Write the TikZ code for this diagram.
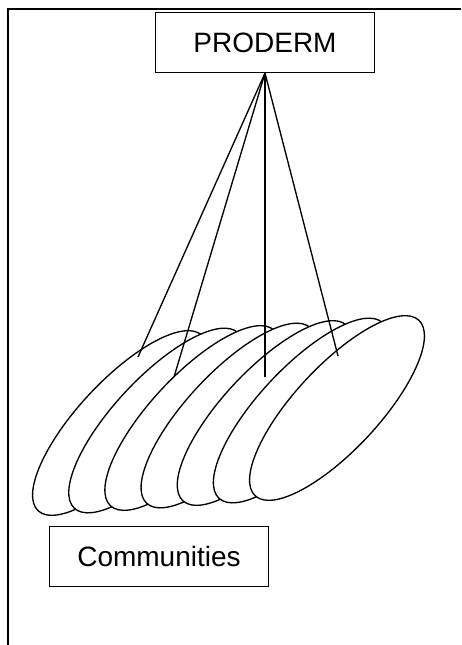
\documentclass[tikz,border=0pt]{standalone}
\usepackage{fontspec}
\setmainfont{Liberation Sans}

\begin{document}
\begin{tikzpicture}[x=0.75pt,y=-0.75pt,
  box/.style={draw,line width=0.9pt,minimum width=164pt,minimum height=45pt,inner sep=0pt,
    font=\fontsize{21}{25}\selectfont},
  plate/.style={draw,fill=white,line width=1pt},
  tie/.style={line width=1pt}]
  \useasboundingbox (0,0) rectangle (461,645);
  \draw[line width=1.6pt] (8,645) -- (8,9) -- (461,9);
  \node[box] (proderm) at (265,42.5) {PRODERM};
  \node[box] (communities) at (159,556.5) {Communities};
  \filldraw[plate] (120,423) ellipse [x radius=120,y radius=42,rotate=47];
  \filldraw[plate] (156.2,420.5) ellipse [x radius=120,y radius=42,rotate=47];
  \filldraw[plate] (192.3,418) ellipse [x radius=120,y radius=42,rotate=47];
  \filldraw[plate] (228.5,415.5) ellipse [x radius=120,y radius=42,rotate=47];
  \filldraw[plate] (264.7,413) ellipse [x radius=120,y radius=42,rotate=47];
  \filldraw[plate] (300.8,410.5) ellipse [x radius=120,y radius=42,rotate=47];
  \filldraw[plate] (337,408) ellipse [x radius=120,y radius=42,rotate=47];
  \coordinate (end1) at (138,357);
  \coordinate (end2) at (174,377);
  \coordinate (end3) at (265,377);
  \coordinate (end4) at (338,356);
  \draw[tie] (proderm.south) -- (end1);
  \draw[tie] (proderm.south) -- (end2);
  \draw[tie] (proderm.south) -- (end3);
  \draw[tie] (proderm.south) -- (end4);
\end{tikzpicture}
\end{document}
